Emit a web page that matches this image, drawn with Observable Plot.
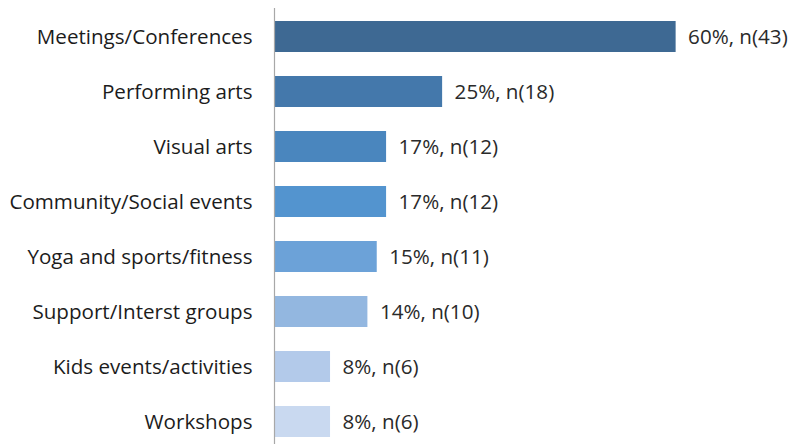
<!DOCTYPE html>
<html><head><meta charset="utf-8">
<script src="https://cdn.jsdelivr.net/npm/d3@7"></script>
<script src="https://cdn.jsdelivr.net/npm/@observablehq/plot@0.6"></script>
<style>body{margin:0;background:#fff}</style>
</head><body><div id="chart"></div>
<script>
const categories = ["Meetings/Conferences","Performing arts","Visual arts","Community/Social events","Yoga and sports/fitness","Support/Interst groups","Kids events/activities","Workshops"];
const counts = [43,18,12,12,11,10,6,6];
const percents = [60,25,17,17,15,14,8,8];
const colors = ["#3e6993","#4478ab","#4a86be","#5394cf","#6ca2d8","#93b7e0","#b3caea","#c9d9f0"];
const data = categories.map((c,i)=>({category:c, n:counts[i], pct:percents[i], color:colors[i]}));
const chart = Plot.plot({
  width:792, height:444,
  marginLeft:274, marginRight:51, marginTop:8, marginBottom:0,
  style:{fontFamily:"Open Sans", background:"#fff"},
  x:{domain:[0,50], axis:null},
  y:{domain:categories, range:[4.16,453.9], paddingInner:0.443, paddingOuter:0.3, axis:null},
  color:{type:"identity"},
  marks:[
    Plot.barX(data,{x:"n", y:"category", fill:"color"}),
    Plot.ruleX([0],{stroke:"#a8a8a8", strokeWidth:1.2}),
    Plot.axisY({tickSize:0, tickPadding:22, fontSize:20.6, fill:"#1c1c1c", label:null}),
    Plot.text(data,{x:"n", y:"category", text:d=>`${d.pct}%, n(${d.n})`, textAnchor:"start", dx:12, fontSize:20.6, fill:"#2a2a2a"})
  ]
});
document.getElementById("chart").append(chart);
</script></body></html>
